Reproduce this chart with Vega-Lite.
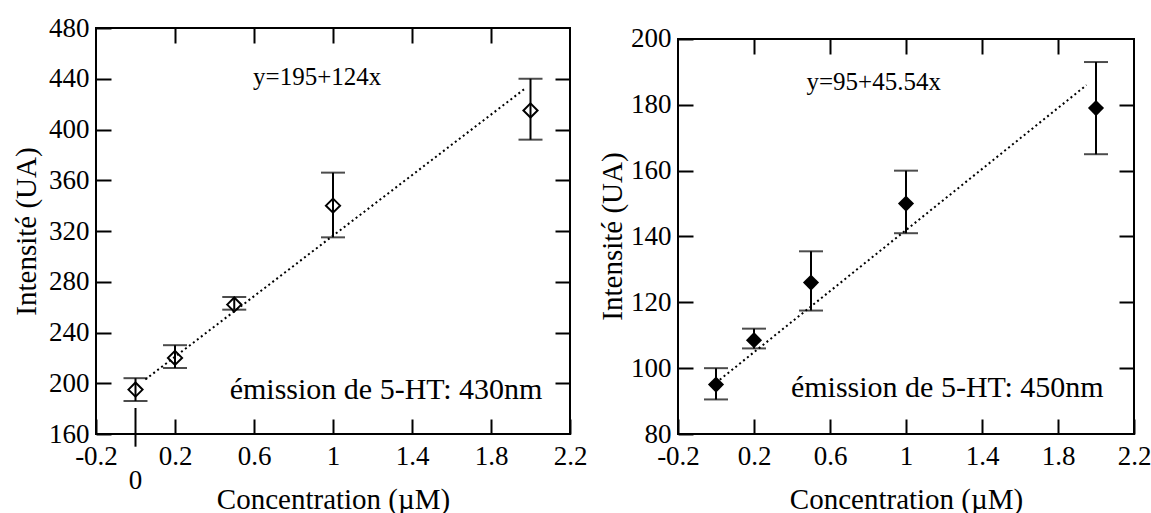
{
  "$schema": "https://vega.github.io/schema/vega-lite/v6.json",
  "padding": {"left": 12, "top": 14, "right": 0, "bottom": 0},
  "background": "white",
  "config": {
    "font": "Liberation Serif",
    "view": {"stroke": null},
    "axis": {
      "labelFont": "Liberation Serif", "titleFont": "Liberation Serif",
      "labelFontSize": 27, "titleFontSize": 29, "titleFontWeight": "normal",
      "labelColor": "black", "titleColor": "black", "tickColor": "black",
      "tickWidth": 2, "tickSize": -15, "grid": false, "domain": false,
      "format": "~r",
      "labelExpr": "replace(datum.label, '−', '-')"
    },
    "text": {"font": "Liberation Serif", "color": "black"}
  },
  "datasets": {
    "frameL": [{"x": -0.2, "x2": 2.2, "y": 160, "y2": 480}],
    "ptsL": [
      {"x": 0, "y": 195, "lo": 186, "hi": 204},
      {"x": 0.2, "y": 220, "lo": 212, "hi": 230},
      {"x": 0.5, "y": 262, "lo": 258, "hi": 268},
      {"x": 1, "y": 340, "lo": 315, "hi": 366},
      {"x": 2, "y": 415, "lo": 392, "hi": 440}
    ],
    "fitL": [{"x": 0.05, "y": 203}, {"x": 1.97, "y": 432}],
    "zeroL": [{"x": 0, "y": 180.5, "y2": 150}],
    "textL": [{"x": 0.92, "y": 441, "label": "y=195+124x"}],
    "textL2": [{"x": 2.06, "y": 195, "label": "émission de 5-HT: 430nm"}],
    "zeroLab": [{"x": 0, "y": 123, "label": "0"}],
    "frameR": [{"x": -0.2, "x2": 2.2, "y": 80, "y2": 200}],
    "ptsR": [
      {"x": 0, "y": 95, "lo": 90.5, "hi": 100},
      {"x": 0.2, "y": 108.5, "lo": 106, "hi": 112},
      {"x": 0.5, "y": 126, "lo": 117.5, "hi": 135.5},
      {"x": 1, "y": 150, "lo": 141, "hi": 160},
      {"x": 2, "y": 179, "lo": 165, "hi": 193}
    ],
    "fitR": [{"x": 0.02, "y": 96.5}, {"x": 1.95, "y": 186}],
    "textR": [{"x": 0.83, "y": 187, "label": "y=95+45.54x"}],
    "textR2": [{"x": 2.04, "y": 94, "label": "émission de 5-HT: 450nm"}]
  },
  "hconcat": [
    {
      "width": 474,
      "height": 406,
      "layer": [
        {
          "data": {"name": "frameL"},
          "mark": {"type": "rect", "fillOpacity": 0, "stroke": "black", "strokeWidth": 2},
          "encoding": {
            "x": {"field": "x", "type": "quantitative", "scale": {"domain": [-0.2, 2.2], "nice": false, "zero": false},
                  "axis": {"orient": "bottom", "values": [-0.2, 0.2, 0.6, 1, 1.4, 1.8, 2.2], "title": "Concentration (µM)", "labelPadding": 24, "titlePadding": 16, "labelFlush": false}},
            "x2": {"field": "x2"},
            "y": {"field": "y", "type": "quantitative", "scale": {"domain": [160, 480], "nice": false, "zero": false},
                  "axis": {"orient": "left", "values": [160, 200, 240, 280, 320, 360, 400, 440, 480], "title": "Intensité (UA)", "labelPadding": 22, "titlePadding": 7}},
            "y2": {"field": "y2"}
          }
        },
        {
          "data": {"name": "fitL"},
          "mark": {"type": "line", "color": "black", "strokeWidth": 2, "strokeDash": [2, 3]},
          "encoding": {
            "x": {"field": "x", "type": "quantitative", "scale": {"domain": [-0.2, 2.2], "nice": false, "zero": false},
                  "axis": {"orient": "top", "values": [0.2, 0.6, 1, 1.4, 1.8], "labels": false, "title": null}},
            "y": {"field": "y", "type": "quantitative", "scale": {"domain": [160, 480], "nice": false, "zero": false},
                  "axis": {"orient": "right", "values": [200, 240, 280, 320, 360, 400, 440], "labels": false, "title": null}}
          }
        },
        {
          "data": {"name": "ptsL"},
          "mark": {"type": "rule", "color": "black", "strokeWidth": 2},
          "encoding": {
            "x": {"field": "x", "type": "quantitative", "axis": null},
            "y": {"field": "lo", "type": "quantitative", "axis": null},
            "y2": {"field": "hi"}
          }
        },
        {
          "data": {"name": "ptsL"},
          "mark": {"type": "tick", "orient": "horizontal", "color": "black", "size": 24, "thickness": 2},
          "encoding": {
            "x": {"field": "x", "type": "quantitative", "axis": null},
            "y": {"field": "lo", "type": "quantitative", "axis": null}
          }
        },
        {
          "data": {"name": "ptsL"},
          "mark": {"type": "tick", "orient": "horizontal", "color": "black", "size": 24, "thickness": 2},
          "encoding": {
            "x": {"field": "x", "type": "quantitative", "axis": null},
            "y": {"field": "hi", "type": "quantitative", "axis": null}
          }
        },
        {
          "data": {"name": "ptsL"},
          "mark": {"type": "point", "shape": "diamond", "size": 200, "filled": false, "color": "black", "strokeWidth": 2, "opacity": 1},
          "encoding": {
            "x": {"field": "x", "type": "quantitative", "axis": null},
            "y": {"field": "y", "type": "quantitative", "axis": null}
          }
        },
        {
          "data": {"name": "zeroL"},
          "mark": {"type": "rule", "color": "black", "strokeWidth": 2},
          "encoding": {
            "x": {"field": "x", "type": "quantitative", "axis": null},
            "y": {"field": "y", "type": "quantitative", "axis": null},
            "y2": {"field": "y2"}
          }
        },
        {
          "data": {"name": "textL"},
          "mark": {"type": "text", "fontSize": 25, "align": "center", "baseline": "middle"},
          "encoding": {
            "x": {"field": "x", "type": "quantitative", "axis": null},
            "y": {"field": "y", "type": "quantitative", "axis": null},
            "text": {"field": "label"}
          }
        },
        {
          "data": {"name": "textL2"},
          "mark": {"type": "text", "fontSize": 30, "align": "right", "baseline": "middle"},
          "encoding": {
            "x": {"field": "x", "type": "quantitative", "axis": null},
            "y": {"field": "y", "type": "quantitative", "axis": null},
            "text": {"field": "label"}
          }
        },
        {
          "data": {"name": "zeroLab"},
          "mark": {"type": "text", "fontSize": 27, "align": "center", "baseline": "middle"},
          "encoding": {
            "x": {"field": "x", "type": "quantitative", "axis": null},
            "y": {"field": "y", "type": "quantitative", "axis": null},
            "text": {"field": "label"}
          }
        }
      ],
      "resolve": {"axis": {"x": "independent", "y": "independent"}}
    },
    {
      "width": 456,
      "height": 406,
      "layer": [
        {
          "data": {"name": "frameR"},
          "mark": {"type": "rect", "fillOpacity": 0, "stroke": "black", "strokeWidth": 2},
          "encoding": {
            "x": {"field": "x", "type": "quantitative", "scale": {"domain": [-0.2, 2.2], "nice": false, "zero": false},
                  "axis": {"orient": "bottom", "values": [-0.2, 0.2, 0.6, 1, 1.4, 1.8, 2.2], "title": "Concentration (µM)", "labelPadding": 24, "titlePadding": 16, "labelFlush": false}},
            "x2": {"field": "x2"},
            "y": {"field": "y", "type": "quantitative", "scale": {"domain": [80, 203.34], "nice": false, "zero": false},
                  "axis": {"orient": "left", "values": [80, 100, 120, 140, 160, 180, 200], "title": "Intensité (UA)", "labelPadding": 22, "titlePadding": 3, "titleY": 208}},
            "y2": {"field": "y2"}
          }
        },
        {
          "data": {"name": "fitR"},
          "mark": {"type": "line", "color": "black", "strokeWidth": 2, "strokeDash": [2, 3]},
          "encoding": {
            "x": {"field": "x", "type": "quantitative", "scale": {"domain": [-0.2, 2.2], "nice": false, "zero": false},
                  "axis": {"orient": "top", "values": [0.2, 0.6, 1, 1.4, 1.8], "labels": false, "title": null, "offset": -11}},
            "y": {"field": "y", "type": "quantitative", "scale": {"domain": [80, 203.34], "nice": false, "zero": false},
                  "axis": {"orient": "right", "values": [100, 120, 140, 160, 180], "labels": false, "title": null}}
          }
        },
        {
          "data": {"name": "ptsR"},
          "mark": {"type": "rule", "color": "black", "strokeWidth": 2},
          "encoding": {
            "x": {"field": "x", "type": "quantitative", "axis": null},
            "y": {"field": "lo", "type": "quantitative", "axis": null},
            "y2": {"field": "hi"}
          }
        },
        {
          "data": {"name": "ptsR"},
          "mark": {"type": "tick", "orient": "horizontal", "color": "black", "size": 24, "thickness": 2},
          "encoding": {
            "x": {"field": "x", "type": "quantitative", "axis": null},
            "y": {"field": "lo", "type": "quantitative", "axis": null}
          }
        },
        {
          "data": {"name": "ptsR"},
          "mark": {"type": "tick", "orient": "horizontal", "color": "black", "size": 24, "thickness": 2},
          "encoding": {
            "x": {"field": "x", "type": "quantitative", "axis": null},
            "y": {"field": "hi", "type": "quantitative", "axis": null}
          }
        },
        {
          "data": {"name": "ptsR"},
          "mark": {"type": "point", "shape": "diamond", "size": 260, "filled": true, "color": "black", "opacity": 1},
          "encoding": {
            "x": {"field": "x", "type": "quantitative", "axis": null},
            "y": {"field": "y", "type": "quantitative", "axis": null}
          }
        },
        {
          "data": {"name": "textR"},
          "mark": {"type": "text", "fontSize": 25, "align": "center", "baseline": "middle"},
          "encoding": {
            "x": {"field": "x", "type": "quantitative", "axis": null},
            "y": {"field": "y", "type": "quantitative", "axis": null},
            "text": {"field": "label"}
          }
        },
        {
          "data": {"name": "textR2"},
          "mark": {"type": "text", "fontSize": 30, "align": "right", "baseline": "middle"},
          "encoding": {
            "x": {"field": "x", "type": "quantitative", "axis": null},
            "y": {"field": "y", "type": "quantitative", "axis": null},
            "text": {"field": "label"}
          }
        }
      ],
      "resolve": {"axis": {"x": "independent", "y": "independent"}}
    }
  ],
  "spacing": 11
}
